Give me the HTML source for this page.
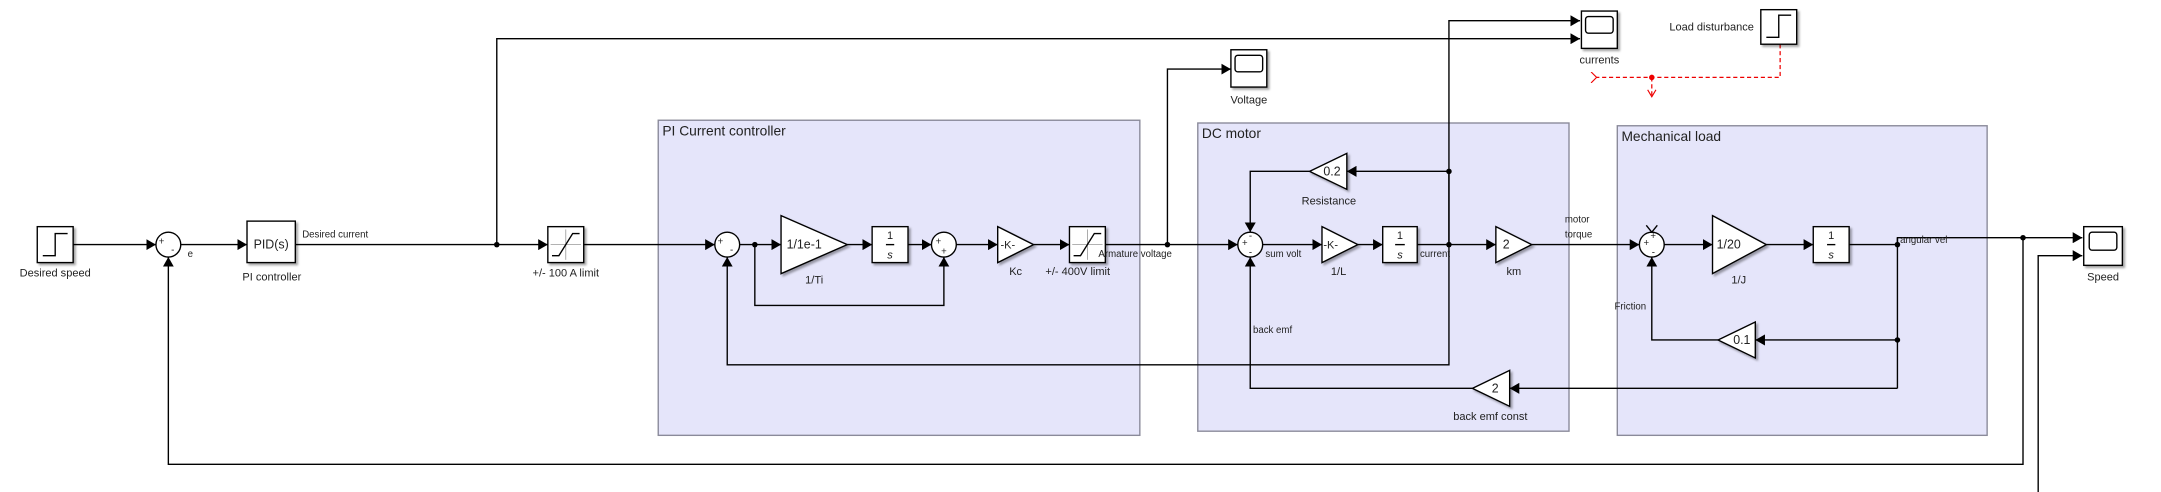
<!DOCTYPE html>
<html><head><meta charset="utf-8"><style>
html,body{margin:0;padding:0;background:#fff;}
svg{display:block;}
text{font-family:"Liberation Sans",sans-serif;fill:#222;}
</style></head><body>
<svg width="2161" height="492" viewBox="0 0 1566 356" preserveAspectRatio="none" xmlns="http://www.w3.org/2000/svg">
<defs>
<marker id="a" markerWidth="8" markerHeight="8" refX="7" refY="4" orient="auto" markerUnits="userSpaceOnUse"><path d="M0,0 L7,4 L0,8 Z" fill="#000"/></marker>
<marker id="r" markerWidth="8" markerHeight="8" refX="1" refY="4" orient="auto" markerUnits="userSpaceOnUse"><path d="M5,0 L1,4 L5,8" fill="none" stroke="#e00" stroke-width="0.8"/></marker>
<filter id="sh" x="-20%" y="-20%" width="150%" height="150%"><feDropShadow dx="1.5" dy="1.5" stdDeviation="0.8" flood-color="#000" flood-opacity="0.35"/></filter>
</defs>
<rect x="477" y="87" width="349" height="228" fill="#e5e5fa" stroke="#8a8a9a" stroke-width="1"/>
<text x="480" y="98" font-size="10" fill="#555">PI Current controller</text>
<rect x="868" y="89" width="269" height="223" fill="#e5e5fa" stroke="#8a8a9a" stroke-width="1"/>
<text x="871" y="100" font-size="10" fill="#555">DC motor</text>
<rect x="1172" y="91" width="268" height="224" fill="#e5e5fa" stroke="#8a8a9a" stroke-width="1"/>
<text x="1175" y="102" font-size="10" fill="#555">Mechanical load</text>

<g fill="none" stroke="#000" stroke-width="1">
<line x1="53" y1="177" x2="113" y2="177" marker-end="url(#a)"/>
<line x1="131" y1="177" x2="179" y2="177" marker-end="url(#a)"/>
<line x1="214" y1="177" x2="397" y2="177" marker-end="url(#a)"/>
<line x1="423" y1="177" x2="518" y2="177" marker-end="url(#a)"/>
<polyline points="360,177 360,28 1145,28" marker-end="url(#a)"/>
<line x1="536" y1="177" x2="566" y2="177" marker-end="url(#a)"/>
<polyline points="547,177 547,221 684,221 684,186" marker-end="url(#a)"/>
<line x1="614" y1="177" x2="632" y2="177" marker-end="url(#a)"/>
<line x1="658" y1="177" x2="675" y2="177" marker-end="url(#a)"/>
<line x1="693" y1="177" x2="723" y2="177" marker-end="url(#a)"/>
<line x1="749" y1="177" x2="775" y2="177" marker-end="url(#a)"/>
<line x1="801" y1="177" x2="897" y2="177" marker-end="url(#a)"/>
<polyline points="846,177 846,50 892,50" marker-end="url(#a)"/>
<line x1="915" y1="177" x2="958" y2="177" marker-end="url(#a)"/>
<line x1="984" y1="177" x2="1002" y2="177" marker-end="url(#a)"/>
<line x1="1027" y1="177" x2="1084" y2="177" marker-end="url(#a)"/>
<polyline points="1050,177 1050,124 976,124" marker-end="url(#a)"/>
<polyline points="949,124 906,124 906,168" marker-end="url(#a)"/>
<polyline points="1050,124 1050,15 1145,15" marker-end="url(#a)"/>
<polyline points="1050,124 1050,264 527,264 527,186" marker-end="url(#a)"/>
<line x1="1110" y1="177" x2="1188" y2="177" marker-end="url(#a)"/>
<line x1="1206" y1="177" x2="1241" y2="177" marker-end="url(#a)"/>
<line x1="1280" y1="177" x2="1314" y2="177" marker-end="url(#a)"/>
<polyline points="1340,177 1375,177"/>
<polyline points="1375,177 1375,172 1509,172" marker-end="url(#a)"/>
<line x1="1375" y1="172" x2="1375" y2="281"/>
<polyline points="1375,246 1272,246" marker-end="url(#a)"/>
<polyline points="1245,246 1197,246 1197,186" marker-end="url(#a)"/>
<polyline points="1375,281 1094,281" marker-end="url(#a)"/>
<polyline points="1067,281 906,281 906,186" marker-end="url(#a)"/>
<polyline points="1466,172 1466,336 122,336 122,186" marker-end="url(#a)"/>
<polyline points="1477,360 1477,185 1509,185" marker-end="url(#a)"/>
</g>
<g fill="#000">
<circle cx="360" cy="177" r="2"/><circle cx="547" cy="177" r="2"/><circle cx="846" cy="177" r="2"/>
<circle cx="1050" cy="177" r="2"/><circle cx="1050" cy="124" r="2"/><circle cx="1375" cy="177" r="2"/>
<circle cx="1375" cy="246" r="2"/><circle cx="1466" cy="172" r="2"/>
</g>
<g fill="none" stroke="#e00" stroke-width="0.9" stroke-dasharray="3,2">
<polyline points="1290,32 1290,56 1157,56" marker-end="url(#r)"/>
<line x1="1197" y1="56" x2="1197" y2="69"/>
</g>
<path d="M1194,65 L1197,70 L1200,65" fill="none" stroke="#e00" stroke-width="0.8"/>
<circle cx="1197" cy="56" r="2" fill="#e00"/>

<g stroke="#000" stroke-width="1" fill="#fff" filter="url(#sh)">
<rect x="27" y="164" width="26" height="26"/>
<rect x="179" y="160" width="35" height="30"/>
<rect x="397" y="164" width="26" height="26"/>
<rect x="632" y="164" width="26" height="26"/>
<rect x="775" y="164" width="26" height="26"/>
<rect x="1002" y="164" width="25" height="26"/>
<rect x="1314" y="164" width="26" height="26"/>
<rect x="892" y="36" width="26" height="27"/>
<rect x="1146" y="8" width="26" height="27"/>
<rect x="1276" y="7" width="26" height="25"/>
<rect x="1510" y="164" width="28" height="28"/>
<polygon points="566,156 614,177 566,198"/>
<polygon points="723,164 749,177 723,190"/>
<polygon points="958,164 984,177 958,190"/>
<polygon points="1084,164 1110,177 1084,190"/>
<polygon points="1241,156 1280,177 1241,198"/>
<polygon points="976,111 949,124 976,137"/>
<polygon points="1094,268 1067,281 1094,294"/>
<polygon points="1272,233 1245,246 1272,259"/>
</g>
<g stroke="#000" stroke-width="1" fill="#fff">
<circle cx="122" cy="177" r="9"/><circle cx="527" cy="177" r="9"/><circle cx="684" cy="177" r="9"/>
<circle cx="906" cy="177" r="9"/><circle cx="1197" cy="177" r="9"/>
</g>
<path d="M1193,163 L1197,168 L1201,163" fill="none" stroke="#000" stroke-width="1"/>
<g fill="none" stroke="#000" stroke-width="1">
<polyline points="31,185 40,185 40,169 49,169"/>
<polyline points="1280,27 1289,27 1289,11 1298,11"/>
<rect x="895" y="40" width="20" height="12" rx="2"/>
<rect x="1149" y="12" width="20" height="12" rx="2"/>
<rect x="1514" y="168" width="20" height="13" rx="2"/>
</g>
<g stroke="#999" stroke-width="0.6"><line x1="410" y1="166" x2="410" y2="188"/><line x1="399" y1="177" x2="421" y2="177"/>
<line x1="788" y1="166" x2="788" y2="188"/><line x1="777" y1="177" x2="799" y2="177"/></g>
<g fill="none" stroke="#000" stroke-width="1"><polyline points="400,185 405,185 415,169 420,169"/><polyline points="778,185 783,185 793,169 798,169"/></g>
<g font-family="Liberation Serif" font-size="8" text-anchor="middle">
<text x="645" y="173">1</text><line x1="642" y1="177" x2="648" y2="177" stroke="#000"/><text x="645" y="187" font-style="italic">s</text>
<text x="1014.5" y="173">1</text><line x1="1011" y1="177" x2="1018" y2="177" stroke="#000"/><text x="1014.5" y="187" font-style="italic">s</text>
<text x="1327" y="173">1</text><line x1="1324" y1="177" x2="1330" y2="177" stroke="#000"/><text x="1327" y="187" font-style="italic">s</text>
</g>
<g font-size="9">
<text x="196.5" y="180" text-anchor="middle">PID(s)</text>
<text x="570" y="180">1/1e-1</text>
<text x="725" y="180" font-size="8">-K-</text>
<text x="959" y="180" font-size="8">-K-</text>
<text x="1089" y="180">2</text>
<text x="1244" y="180">1/20</text>
<text x="959" y="127">0.2</text>
<text x="1081" y="284">2</text>
<text x="1256" y="249">0.1</text>
</g>
<g font-size="7">
<text x="115" y="177">+</text><text x="124" y="183">-</text>
<text x="520" y="177">+</text><text x="529" y="183">-</text>
<text x="678" y="177">+</text><text x="682" y="184">+</text>
<text x="900" y="178">+</text><text x="905" y="173">-</text><text x="905" y="185">-</text>
<text x="1191" y="178">+</text><text x="1196" y="173">+</text><text x="1197" y="185">-</text>
</g>
<g font-size="8" text-anchor="middle">
<text x="40" y="200">Desired speed</text>
<text x="197" y="203">PI controller</text>
<text x="410" y="200">+/- 100 A limit</text>
<text x="590" y="205">1/Ti</text>
<text x="736" y="199">Kc</text>
<text x="781" y="199">+/- 400V limit</text>
<text x="970" y="199">1/L</text>
<text x="1097" y="199">km</text>
<text x="1260" y="205">1/J</text>
<text x="963" y="148">Resistance</text>
<text x="1080" y="304">back emf const</text>
<text x="905" y="75">Voltage</text>
<text x="1159" y="46">currents</text>
<text x="1524" y="203">Speed</text>
</g>
<g font-size="7">
<text x="136" y="186">e</text>
<text x="219" y="172">Desired current</text>
<text x="796" y="186">Armature voltage</text>
<text x="917" y="186">sum volt</text>
<text x="1029" y="186">current</text>
<text x="908" y="241">back emf</text>
<text x="1134" y="161">motor</text>
<text x="1134" y="172">torque</text>
<text x="1377" y="176">angular vel</text>
<text x="1170" y="224">Friction</text>
<text x="1271" y="22" font-size="8" text-anchor="end">Load disturbance</text>
</g>
</svg>
</body></html>
